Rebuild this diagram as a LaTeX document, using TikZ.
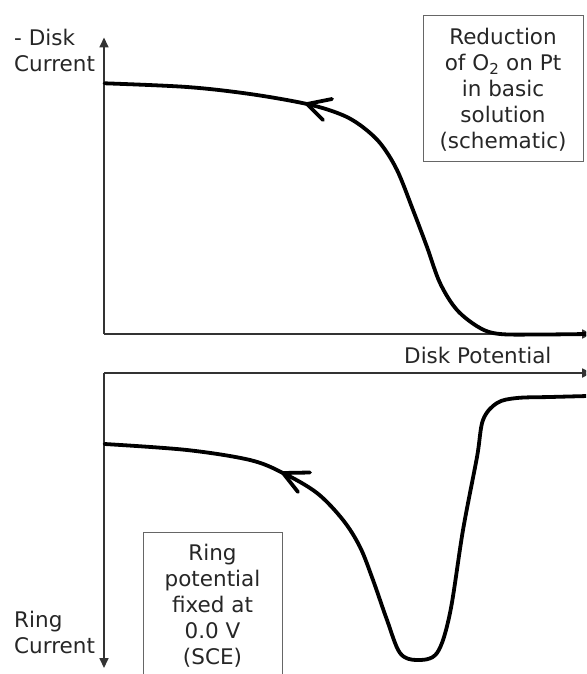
\documentclass[tikz,border=0pt]{standalone}
\usepackage{fontspec}
\setmainfont{DejaVu Sans}
\usetikzlibrary{arrows.meta}
\begin{document}
\begin{tikzpicture}[x=1pt,y=-1pt,
  axis/.style={draw=black!80, line width=1.7pt, -{Triangle[length=10pt,width=9pt]}},
  curve/.style={line width=3.8pt, line cap=round, line join=round},
  chev/.style={line width=3.8pt, line cap=round, line join=miter},
  lbl/.style={font=\fontsize{21.5}{26}\selectfont, inner sep=0pt, text=black!85},
  infobox/.style={draw=black!60, line width=1pt}]
\useasboundingbox (0,0) rectangle (586,674);
\clip (0,0) rectangle (586,674);
% axes
\coordinate (o1) at (104,334);
\coordinate (ytop) at (104,37.5);
\coordinate (x1end) at (592,334);
\coordinate (o2) at (104,373);
\coordinate (ybot) at (104,668);
\coordinate (x2end) at (592,373);
\draw[axis] (o1) -- (ytop);
\draw[axis] (o1) -- (x1end);
\draw[axis] (o2) -- (ybot);
\draw[axis] (o2) -- (x2end);
% top curve
\draw[curve] plot[smooth, tension=0.55] coordinates {
  (104.6,83.3) (187,87) (250,94) (307,104) (340,114) (360,125) (380,143)
  (397,170) (413,210) (427,247) (440,283) (457,310) (480,328) (500,334)
  (540,334.5) (588,334)};
\coordinate (t1) at (307,104);
\coordinate (t1a) at (332,99);
\coordinate (t1b) at (323,120);
\draw[chev] (t1a) -- (t1) -- (t1b);
% bottom curve
\draw[curve] plot[smooth, tension=0.55] coordinates {
  (104.6,444) (187,450) (250,460) (283,473) (317,493) (343,520) (360,547)
  (373,580) (387,620) (400,653) (417,660) (437,653) (450,613) (463,530)
  (477,457) (483,420) (497,403) (517,398) (550,397) (588,396)};
\coordinate (t2) at (283,473);
\coordinate (t2a) at (310,472.5);
\coordinate (t2b) at (298,492);
\draw[chev] (t2a) -- (t2) -- (t2b);
% labels
\node[lbl, anchor=north west, align=left] (ylab1) at (14,28.7) {- Disk\\Current};
\node[lbl, anchor=north west, align=left] (ylab2) at (14,611.4) {Ring\\Current};
\node[lbl, anchor=base west] (xlab) at (404,363) {Disk Potential};
% boxes
\node[infobox, anchor=north west, minimum width=160pt, minimum height=146pt, inner sep=0pt] (box1) at (423,15) {};
\node[lbl, anchor=north, align=center] (box1t) at (503,27.7)
  {Reduction\\of O\textsubscript{2} on Pt\\in basic\\solution\\(schematic)};
\node[infobox, anchor=north west, minimum width=139pt, minimum height=170pt, inner sep=0pt] (box2) at (143,532) {};
\node[lbl, anchor=north, align=center] (box2t) at (212.5,543.7)
  {Ring\\potential\\fixed at\\0.0 V\\(SCE)};
\end{tikzpicture}
\end{document}
